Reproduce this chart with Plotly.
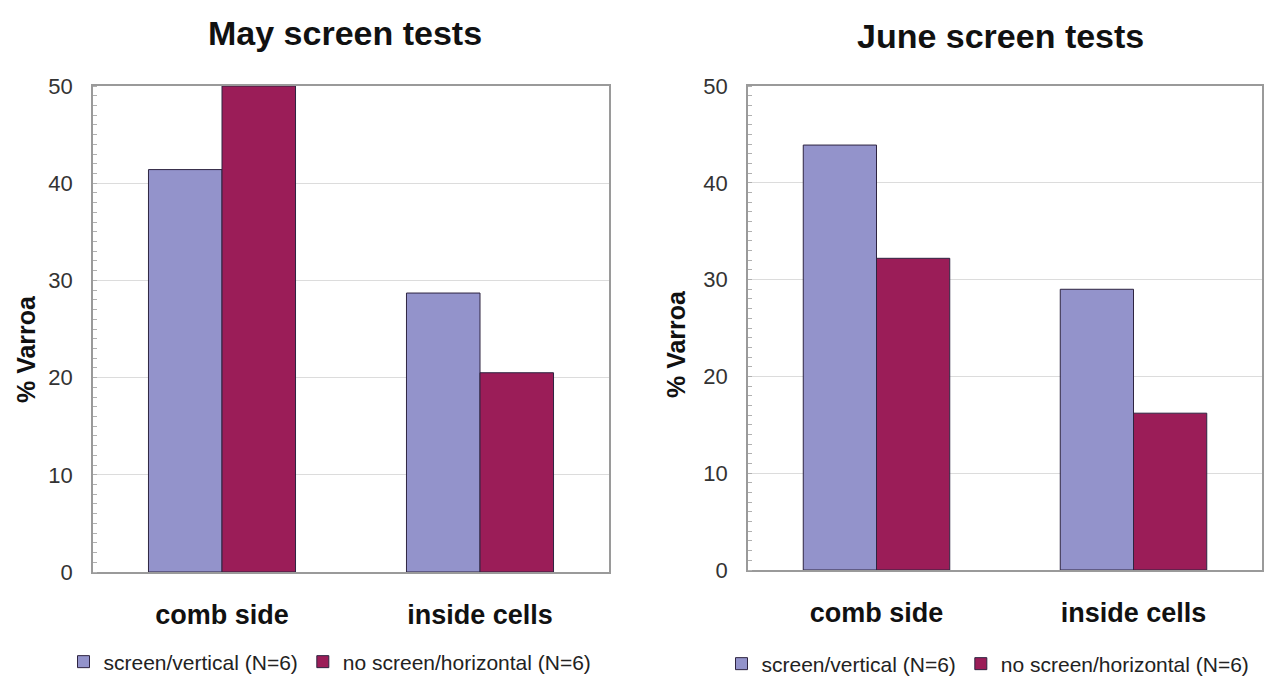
import plotly.graph_objects as go

# Data
categories = ["comb side", "inside cells"]
series_names = ["screen/vertical (N=6)", "no screen/horizontal (N=6)"]
may_screen = [41.4, 28.7]
may_noscreen = [50.0, 20.5]
june_screen = [43.9, 29.0]
june_noscreen = [32.2, 16.2]
y_ticks = [0, 10, 20, 30, 40, 50]

BLUE = "#9393CB"
RED = "#9B1D58"
EDGE = "#2E2440"
FONT = "Liberation Sans, Arial, sans-serif"

W, H = 1272, 691


def px_x(v):
    return v / W


def px_y(v):
    return 1 - v / H


fig = go.Figure()

panels = [
    ("x", "y", "legend", may_screen, may_noscreen),
    ("x2", "y2", "legend2", june_screen, june_noscreen),
]
for xa, ya, lg, s1, s2 in panels:
    for name, vals, col in [(series_names[0], s1, BLUE), (series_names[1], s2, RED)]:
        fig.add_trace(go.Bar(
            x=categories, y=vals, name=name, xaxis=xa, yaxis=ya, legend=lg,
            marker=dict(color=col, line=dict(color=EDGE, width=1)),
        ))

axis_common = dict(
    showline=True, linecolor="#9a9a9a", linewidth=1.5, mirror=True, automargin=False,
)
yaxis_common = dict(
    axis_common, range=[0, 50], tickvals=y_ticks, showgrid=True,
    gridcolor="#dcdcdc", gridwidth=1, zeroline=False,
    tickfont=dict(size=22, color="#333333", family=FONT),
    ticks="", ticklabelstandoff=14,
    minor=dict(dtick=1, ticks="inside", ticklen=4, tickcolor="#b0b0b0", showgrid=False),
)
xaxis_common = dict(
    axis_common, showgrid=False, ticks="",
    tickfont=dict(size=27, color="#111111", family=FONT),
    ticklabelstandoff=18,
    tickvals=categories, ticktext=["<b>comb side</b>", "<b>inside cells</b>"],
)

legend_common = dict(
    orientation="h", xanchor="center", yanchor="middle",
    font=dict(size=21, color="#222222", family=FONT),
    itemwidth=30, tracegroupgap=0, bgcolor="rgba(0,0,0,0)",
)

title_font = dict(size=34, color="#111111", family=FONT)
ytitle_font = dict(size=25, color="#111111", family=FONT)

fig.update_layout(
    width=W, height=H,
    margin=dict(l=0, r=0, t=0, b=0),
    paper_bgcolor="white", plot_bgcolor="white",
    barmode="group", bargap=0.43, bargroupgap=0,
    font=dict(family=FONT),
    xaxis=dict(xaxis_common, domain=[px_x(93), px_x(609)], anchor="y"),
    yaxis=dict(yaxis_common, domain=[px_y(572), px_y(86)], anchor="x"),
    xaxis2=dict(xaxis_common, domain=[px_x(748), px_x(1262)], anchor="y2"),
    yaxis2=dict(yaxis_common, domain=[px_y(570), px_y(86)], anchor="x2"),
    legend=dict(legend_common, x=px_x(330), y=px_y(662)),
    legend2=dict(legend_common, x=px_x(988), y=px_y(664)),
    annotations=[
        dict(text="<b>May screen tests</b>", x=px_x(345), y=px_y(33), xref="paper", yref="paper",
             xanchor="center", yanchor="middle", showarrow=False, font=title_font),
        dict(text="<b>June screen tests</b>", x=px_x(1000), y=px_y(36), xref="paper", yref="paper",
             xanchor="center", yanchor="middle", showarrow=False, font=title_font),
        dict(text="<b>% Varroa</b>", x=px_x(26), y=px_y(349), xref="paper", yref="paper",
             xanchor="center", yanchor="middle", textangle=-90, showarrow=False, font=ytitle_font),
        dict(text="<b>% Varroa</b>", x=px_x(676), y=px_y(344), xref="paper", yref="paper",
             xanchor="center", yanchor="middle", textangle=-90, showarrow=False, font=ytitle_font),
    ],
)

fig.write_html("out.html")
